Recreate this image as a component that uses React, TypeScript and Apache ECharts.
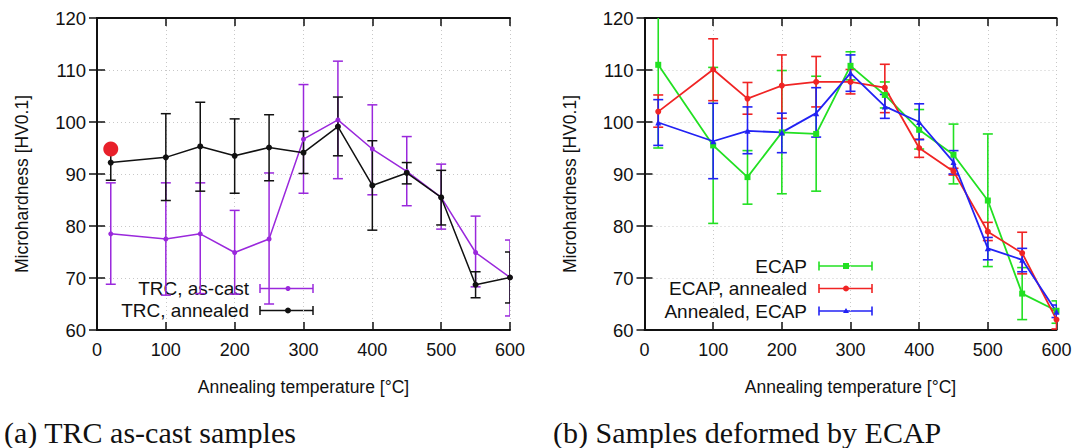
import React, { useEffect, useRef } from "react";
import * as echarts from "echarts";

const temps = [20, 100, 150, 200, 250, 300, 350, 400, 450, 500, 550, 600];

const trcCast = [78.5, 77.5, 78.5, 74.9, 77.5, 96.7, 100.4, 94.8, 90.5, 85.5, 74.9, 70.1];
const trcCastLo = [68.8, 66.7, 67.0, 66.9, 65.0, 86.3, 89.1, 86.0, 83.9, 79.4, 68.3, 62.7];
const trcCastHi = [88.3, 88.3, 88.3, 83.0, 90.2, 107.2, 111.7, 103.3, 97.2, 91.9, 81.9, 77.3];

const trcAnn = [92.2, 93.2, 95.3, 93.5, 95.1, 94.1, 99.1, 87.8, 90.2, 85.5, 68.7, 70.1];
const trcAnnLo = [88.8, 84.9, 86.7, 86.3, 88.7, 90.1, 93.5, 79.2, 88.1, 80.2, 66.2, 65.2];
const trcAnnHi = [95.6, 101.6, 103.8, 100.6, 101.4, 98.2, 104.8, 96.4, 92.2, 90.7, 71.2, 75.0];

const refPoint = [[20, 94.8]];

const ecap = [111.0, 95.5, 89.4, 98.0, 97.7, 110.8, 105.2, 98.5, 93.7, 84.9, 67.0, 63.7];
const ecapLo = [95.0, 80.5, 84.2, 86.2, 86.7, 108.1, 102.7, 94.8, 88.1, 72.2, 62.0, 61.3];
const ecapHi = [127.0, 110.5, 94.5, 109.9, 108.8, 113.5, 107.7, 102.4, 99.6, 97.7, 72.0, 65.6];

const ecapAnn = [102.0, 110.1, 104.5, 107.0, 107.7, 107.7, 106.6, 95.0, 90.5, 78.9, 74.8, 62.0];
const ecapAnnLo = [99.0, 104.1, 101.5, 100.7, 102.9, 105.4, 101.8, 93.2, 89.8, 77.2, 70.8, 60.2];
const ecapAnnHi = [105.2, 116.0, 107.6, 112.9, 112.6, 110.1, 111.1, 96.7, 91.1, 80.7, 78.8, 63.8];

const annEcap = [99.9, 96.3, 98.3, 98.0, 101.7, 109.4, 103.0, 100.0, 92.3, 75.7, 73.5, 63.5];
const annEcapLo = [95.5, 89.1, 93.9, 94.1, 97.1, 105.9, 100.7, 96.6, 90.0, 73.5, 71.2, 62.4];
const annEcapHi = [104.3, 103.6, 102.9, 101.7, 106.6, 112.9, 105.3, 103.5, 94.5, 77.8, 75.7, 64.8];

const xTitle = "Annealing temperature [°C]";
const yTitle = "Microhardness [HV0.1]";
const captionA = "(a) TRC as-cast samples";
const captionB = "(b) Samples deformed by ECAP";

const C_PURPLE = "#9a28dc";
const C_BLACK = "#111111";
const C_GREEN = "#22e022";
const C_RED = "#f02424";
const C_BLUE = "#2222f4";

const SANS = "Liberation Sans, Arial, sans-serif";
const SERIF = "Liberation Serif, Times New Roman, serif";

const lineSeries = (name: string, vals: number[], color: string, symbol: string, size: number, xi: number, yi: number, lw: number) => ({
  type: "line",
  name,
  xAxisIndex: xi,
  yAxisIndex: yi,
  data: temps.map((t, i) => [t, vals[i]]),
  symbol,
  symbolSize: size,
  showSymbol: true,
  lineStyle: { color, width: lw },
  itemStyle: { color },
  z: 3,
});

const errSeries = (name: string, lo: number[], hi: number[], color: string, xi: number, yi: number, lw: number) => ({
  type: "custom",
  name,
  xAxisIndex: xi,
  yAxisIndex: yi,
  clip: true,
  data: temps.map((t, i) => [t, lo[i], hi[i]]),
  encode: { x: 0, y: [1, 2] },
  z: 2,
  renderItem: (params: any, api: any) => {
    const x = api.value(0);
    const p1 = api.coord([x, api.value(1)]);
    const p2 = api.coord([x, api.value(2)]);
    const w = 5;
    const style = { stroke: color, lineWidth: lw, fill: "none" };
    return {
      type: "group",
      children: [
        { type: "line", shape: { x1: p1[0], y1: p1[1], x2: p2[0], y2: p2[1] }, style },
        { type: "line", shape: { x1: p1[0] - w, y1: p1[1], x2: p1[0] + w, y2: p1[1] }, style },
        { type: "line", shape: { x1: p2[0] - w, y1: p2[1], x2: p2[0] + w, y2: p2[1] }, style },
      ],
    };
  },
});

const legendEntry = (label: string, textRight: number, y: number, x1: number, x2: number, color: string, marker: any, lw: number) => [
  {
    type: "text",
    x: textRight,
    y,
    style: { text: label, fill: "#111", font: `19px ${SANS}`, align: "right", verticalAlign: "middle" },
  },
  { type: "line", shape: { x1, y1: y, x2, y2: y }, style: { stroke: color, lineWidth: lw } },
  { type: "line", shape: { x1, y1: y - 4.5, x2: x1, y2: y + 4.5 }, style: { stroke: color, lineWidth: lw } },
  { type: "line", shape: { x1: x2, y1: y - 4.5, x2: x2, y2: y + 4.5 }, style: { stroke: color, lineWidth: lw } },
  marker,
];

const baseX = (gi: number) => ({
  type: "value",
  gridIndex: gi,
  min: 0,
  max: 600,
  interval: 100,
  position: "bottom",
  name: xTitle,
  nameLocation: "middle",
  nameGap: 48,
  nameTextStyle: { fontFamily: SANS, fontSize: 17.5, color: "#111" },
  axisLine: { show: true, lineStyle: { color: "#111", width: 2 } },
  axisTick: { show: true, inside: true, length: 8, lineStyle: { color: "#111", width: 1.5 } },
  axisLabel: { fontFamily: SANS, fontSize: 18, color: "#111", margin: 11 },
  splitLine: { show: true, lineStyle: { color: "#c8c8c8", type: [1, 3], width: 1 } },
});
const mirrorX = (gi: number) => ({
  type: "value",
  gridIndex: gi,
  min: 0,
  max: 600,
  interval: 100,
  position: "top",
  axisLine: { show: true, lineStyle: { color: "#111", width: 2 } },
  axisTick: { show: true, inside: true, length: 8, lineStyle: { color: "#111", width: 1.5 } },
  axisLabel: { show: false },
  splitLine: { show: false },
});
const baseY = (gi: number) => ({
  type: "value",
  gridIndex: gi,
  min: 60,
  max: 120,
  interval: 10,
  position: "left",
  axisLine: { show: true, lineStyle: { color: "#111", width: 2 } },
  axisTick: { show: true, inside: true, length: 8, lineStyle: { color: "#111", width: 1.5 } },
  axisLabel: { fontFamily: SANS, fontSize: 18.5, color: "#111", margin: 11 },
  splitLine: { show: true, lineStyle: { color: "#c8c8c8", type: [1, 3], width: 1 } },
});
const mirrorY = (gi: number) => ({
  type: "value",
  gridIndex: gi,
  min: 60,
  max: 120,
  interval: 10,
  position: "right",
  axisLine: { show: true, lineStyle: { color: "#111", width: 2 } },
  axisTick: { show: true, inside: true, length: 8, lineStyle: { color: "#111", width: 1.5 } },
  axisLabel: { show: false },
  splitLine: { show: false },
});

const yName = (cx: number) => ({
  type: "text",
  x: cx,
  y: 184,
  rotation: Math.PI / 2,
  style: { text: yTitle, fill: "#111", font: `17.5px ${SANS}`, align: "center", verticalAlign: "middle" },
});

export default function App() {
  const ref = useRef<HTMLDivElement>(null);
  useEffect(() => {
    if (!ref.current) return;
    const chart = echarts.init(ref.current, undefined, { renderer: "svg" });
    const option: any = {
      animation: false,
      backgroundColor: "#ffffff",
      grid: [
        { left: 97, top: 18, width: 413, height: 312 },
        { left: 644.5, top: 18, width: 412, height: 312 },
      ],
      xAxis: [baseX(0), mirrorX(0), baseX(1), mirrorX(1)],
      yAxis: [baseY(0), mirrorY(0), baseY(1), mirrorY(1)],
      series: [
        errSeries("TRC, as-cast err", trcCastLo, trcCastHi, C_PURPLE, 0, 0, 1.5),
        lineSeries("TRC, as-cast", trcCast, C_PURPLE, "circle", 5, 0, 0, 1.5),
        errSeries("TRC, annealed err", trcAnnLo, trcAnnHi, C_BLACK, 0, 0, 1.5),
        lineSeries("TRC, annealed", trcAnn, C_BLACK, "circle", 6, 0, 0, 1.5),
        {
          type: "scatter",
          name: "reference",
          xAxisIndex: 0,
          yAxisIndex: 0,
          data: refPoint,
          symbol: "circle",
          symbolSize: 15,
          itemStyle: { color: "#e8202a", opacity: 1 },
          z: 5,
        },
        errSeries("ECAP err", ecapLo, ecapHi, C_GREEN, 2, 2, 1.6),
        lineSeries("ECAP", ecap, C_GREEN, "rect", 6, 2, 2, 1.8),
        errSeries("ECAP, annealed err", ecapAnnLo, ecapAnnHi, C_RED, 2, 2, 1.6),
        lineSeries("ECAP, annealed", ecapAnn, C_RED, "circle", 6, 2, 2, 1.8),
        errSeries("Annealed, ECAP err", annEcapLo, annEcapHi, C_BLUE, 2, 2, 1.6),
        lineSeries("Annealed, ECAP", annEcap, C_BLUE, "triangle", 6, 2, 2, 1.8),
      ],
      graphic: [
        yName(22),
        yName(569.5),
        ...legendEntry("TRC, as-cast", 249, 288.5, 260, 313, C_PURPLE,
          { type: "circle", shape: { cx: 288, cy: 288.5, r: 2.5 }, style: { fill: C_PURPLE } }, 1.5),
        ...legendEntry("TRC, annealed", 249, 310.5, 260, 313, C_BLACK,
          { type: "circle", shape: { cx: 288, cy: 310.5, r: 3 }, style: { fill: C_BLACK } }, 1.5),
        ...legendEntry("ECAP", 807, 266, 819, 872, C_GREEN,
          { type: "rect", shape: { x: 843, y: 263, width: 6, height: 6 }, style: { fill: C_GREEN } }, 1.6),
        ...legendEntry("ECAP, annealed", 807, 288.5, 819, 872, C_RED,
          { type: "circle", shape: { cx: 846, cy: 288.5, r: 3 }, style: { fill: C_RED } }, 1.6),
        ...legendEntry("Annealed, ECAP", 807, 311, 819, 872, C_BLUE,
          { type: "polygon", shape: { points: [[846, 308], [849, 313], [843, 313]] }, style: { fill: C_BLUE } }, 1.6),
        {
          type: "text",
          x: 4,
          y: 432,
          style: { text: captionA, fill: "#111", font: `30px ${SERIF}`, verticalAlign: "middle" },
        },
        {
          type: "text",
          x: 553,
          y: 432,
          style: { text: captionB, fill: "#111", font: `30px ${SERIF}`, verticalAlign: "middle" },
        },
      ],
    };
    chart.setOption(option);
    return () => chart.dispose();
  }, []);
  return <div ref={ref} style={{ position: "fixed", left: 0, top: 0, width: 1084, height: 448 }} />;
}
